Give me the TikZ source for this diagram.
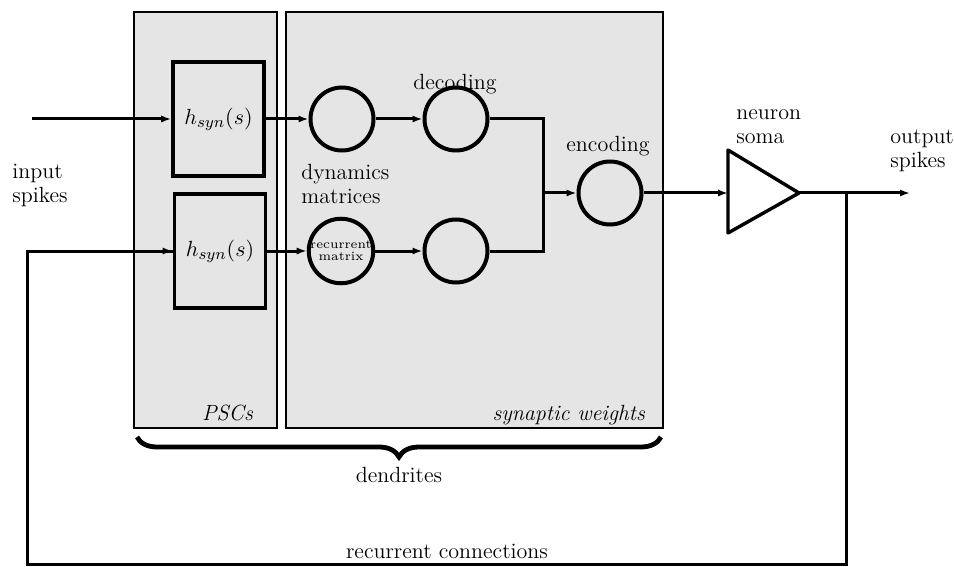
\documentclass[tikz,border=0pt]{standalone}
\usetikzlibrary{arrows.meta,decorations.pathreplacing}
\begin{document}
\begin{tikzpicture}[x=0.5pt,y=-0.5pt,
  font=\fontsize{11}{12.5}\selectfont,
  panel/.style={draw=black,fill=black!10,line width=0.6pt},
  block/.style={draw=black,line width=1.8pt,minimum width=45.5pt,minimum height=57pt,inner sep=0pt},
  unit/.style={draw=black,line width=2pt,circle,minimum size=31.5pt,inner sep=0pt},
  wire/.style={line width=1.5pt},
  flow/.style={wire,-{Latex[length=5pt,width=3.6pt]}},
  lbl/.style={align=left,inner sep=0pt,font=\fontsize{11}{12}\selectfont}]
\useasboundingbox (0,0) rectangle (954,567);

% panels
\draw[panel] (134,12) rectangle (277,428);
\draw[panel] (286,12) rectangle (663,428);
\node[anchor=base east,font=\fontsize{11}{12}\selectfont\itshape] (psc) at (260,420) {PSCs};
\node[anchor=base east,font=\fontsize{11}{12}\selectfont\itshape] (syw) at (652,420) {synaptic weights};

% filter blocks
\node[block] (h1) at (218.5,119) {$h_{syn}(s)$};
\node[block] (h2) at (220,251) {$h_{syn}(s)$};

% matrices
\node[unit] (dyn) at (342,119) {};
\node[unit,font=\fontsize{6.3}{6.5}\selectfont,align=center] (rec) at (341,251) {recurrent\\[-0.5pt]matrix};
\node[unit] (dec) at (456,119) {};
\node[unit] (low) at (456,251) {};
\node[unit] (enc) at (610,193) {};

% soma
\coordinate (tl) at (728,150);
\coordinate (bl) at (728,233);
\coordinate (tip) at (799,193);
\coordinate (tin) at (728,193);
\draw[line width=1.7pt,line join=round] (tl) -- (tip) -- (bl) -- cycle;

% connections
\coordinate (in1) at (32,119);
\draw[flow] (in1) -- (h1.west);
\draw[flow] (h1.east) -- (dyn.west);
\draw[flow] (dyn.east) -- (dec.west);
\draw[flow] (h2.east) -- (rec.west);
\draw[flow] (rec.east) -- (low.west);
\coordinate (jn) at (543,193);
\draw[wire,line join=miter] (dec.east) -| (jn) |- (low.east);
\draw[flow] (jn) -- (enc.west);
\draw[flow] (enc.east) -- (tin);
\coordinate (out) at (910,193);
\draw[flow] (tip) -- (out);
\coordinate (tap) at (846,193);
\coordinate (br) at (846,564);
\coordinate (bll) at (27,564);
\coordinate (ul) at (27,251);
\draw[wire,line join=miter] (tap) -- (br) -- (bll) -- (ul) -- (h2.west |- ul);
\draw[flow] (ul) -- (h2.west);

% brace
\coordinate (bra) at (137,437);
\coordinate (brb) at (661,437);
\draw[line width=2.4pt,decorate,decoration={brace,mirror,amplitude=10pt}] (bra) -- (brb);

% labels
\node[lbl,anchor=west] (inl) at (12,185) {input\\spikes};
\node[lbl,anchor=west] (dml) at (301,184) {dynamics\\matrices};
\node[lbl] (decl) at (455,84) {decoding};
\node[lbl] (encl) at (608,146) {encoding};
\node[lbl,anchor=west] (soma) at (736,127) {neuron\\soma};
\node[lbl,anchor=west] (outl) at (890,151) {output\\spikes};
\node[lbl] (dend) at (399,475) {dendrites};
\node[lbl] (recl) at (447,551) {recurrent connections};
\end{tikzpicture}
\end{document}
